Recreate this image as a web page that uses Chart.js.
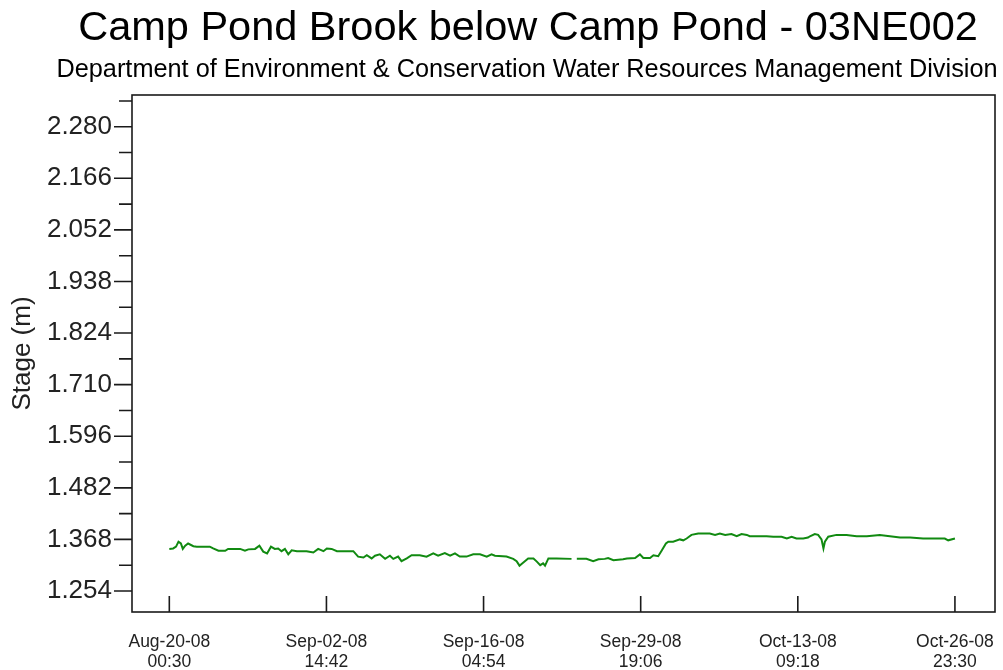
<!DOCTYPE html>
<html>
<head>
<meta charset="utf-8">
<title>Camp Pond Brook below Camp Pond - 03NE002</title>
<script src="https://cdn.jsdelivr.net/npm/chart.js@4.4.1/dist/chart.umd.min.js"></script>
<style>
  html, body { margin: 0; padding: 0; background: #ffffff; }
  #wrap { width: 1003px; height: 670px; }
</style>
</head>
<body>
<div id="wrap"><canvas id="stageChart" width="1003" height="670"></canvas></div>
<script>
// Station and labels
const chartTitle = 'Camp Pond Brook below Camp Pond - 03NE002';
const chartSubtitle = 'Department of Environment & Conservation Water Resources Management Division';
const yAxisTitle = 'Stage (m)';

// Time axis tick labels (date + time of day)
const xTickLabels = [
  'Aug-20-08 00:30', 'Sep-02-08 14:42', 'Sep-16-08 04:54',
  'Sep-29-08 19:06', 'Oct-13-08 09:18', 'Oct-26-08 23:30'
];

// Stage axis tick labels (m)
const yTickLabels = ['1.254', '1.368', '1.482', '1.596', '1.710', '1.824', '1.938', '2.052', '2.166', '2.280'];
const yRange = [1.2076, 2.3501];

// Observation times, hours after Aug-20-08 00:30
const obsHours = [
  0, 8, 14, 19, 24, 28, 33, 39, 50, 57,
  84, 91, 102, 116, 122, 147, 157, 164, 178, 187,
  195, 203, 211, 219, 226, 233, 240, 247, 254, 265,
  285, 299, 309, 320, 327, 337, 348, 375, 382, 392,
  403, 410, 420, 427, 437, 448, 458, 465, 475, 482,
  493, 503, 520, 534, 548, 558, 572, 583, 593, 603,
  617, 631, 645, 659, 669, 676, 700, 714, 721, 727,
  735, 745, 756, 763, 770, 776, 780, 787, 804, 835,
  840, 846, 866, 880, 891, 904, 911, 922, 942, 950,
  967, 977, 984, 998, 1005, 1015, 1022, 1031, 1036, 1046,
  1060, 1067, 1074, 1084, 1098, 1122, 1133, 1143, 1154, 1167,
  1178, 1188, 1199, 1205, 1226, 1240, 1254, 1271, 1282, 1292,
  1302, 1316, 1326, 1330, 1340, 1347, 1354, 1358, 1361, 1368,
  1385, 1406, 1427, 1448, 1475, 1496, 1517, 1538, 1565, 1600,
  1610, 1617, 1631
];

// Water level (m); null marks missing record
const stage = [
  1.347, 1.348, 1.352, 1.363, 1.359, 1.347, 1.354, 1.359, 1.353, 1.352,
  1.352, 1.348, 1.343, 1.343, 1.347, 1.347, 1.343, 1.346, 1.347, 1.354,
  1.341, 1.337, 1.352, 1.347, 1.348, 1.342, 1.347, 1.335, 1.344, 1.342,
  1.342, 1.339, 1.347, 1.342, 1.348, 1.347, 1.342, 1.342, 1.342, 1.330,
  1.328, 1.333, 1.326, 1.332, 1.335, 1.325, 1.332, 1.325, 1.330, 1.320,
  1.326, 1.333, 1.333, 1.330, 1.337, 1.332, 1.338, 1.332, 1.337, 1.330,
  1.330, 1.335, 1.335, 1.330, 1.335, 1.332, 1.330, 1.325, 1.320, 1.310,
  1.317, 1.326, 1.326, 1.319, 1.311, 1.315, 1.310, 1.326, 1.326, 1.325,
  null, 1.325, 1.325, 1.320, 1.324, 1.325, 1.327, 1.322, 1.324, 1.326,
  1.327, 1.335, 1.327, 1.327, 1.333, 1.331, 1.343, 1.359, 1.363, 1.363,
  1.368, 1.366, 1.370, 1.378, 1.381, 1.381, 1.378, 1.381, 1.378, 1.380,
  1.375, 1.380, 1.378, 1.375, 1.375, 1.375, 1.374, 1.374, 1.370, 1.374,
  1.370, 1.370, 1.372, 1.375, 1.380, 1.378, 1.368, 1.348, 1.363, 1.374,
  1.378, 1.378, 1.375, 1.375, 1.378, 1.375, 1.372, 1.372, 1.370, 1.370,
  1.370, 1.366, 1.370
];

const FONT = "'Liberation Sans', Arial, Helvetica, sans-serif";
const MONTHS = { Jan: 0, Feb: 1, Mar: 2, Apr: 3, May: 4, Jun: 5, Jul: 6, Aug: 7, Sep: 8, Oct: 9, Nov: 10, Dec: 11 };

function parseStamp(s) {
  const [d, t] = s.split(' ');
  const [mon, day, yy] = d.split('-');
  const [hh, mm] = t.split(':');
  return Date.UTC(2000 + Number(yy), MONTHS[mon], Number(day), Number(hh), Number(mm));
}

// tick positions on the hour axis
const t0 = parseStamp(xTickLabels[0]);
const xTickHours = xTickLabels.map(s => (parseStamp(s) - t0) / 3600000);
const xTickLines = xTickLabels.map(s => s.split(' '));
const span = xTickHours[xTickHours.length - 1] - xTickHours[0];
const xMin = xTickHours[0] - span * 0.0475;
const xMax = xTickHours[xTickHours.length - 1] + span * 0.051;

// major ticks carry labels, minor ticks sit half way between them
const yMajor = yTickLabels.map(Number);
const yStep = yMajor[1] - yMajor[0];
const yTicks = [];
yMajor.forEach((v, i) => {
  yTicks.push({ value: v, label: yTickLabels[i] });
  const mid = v + yStep / 2;
  if (mid < yRange[1]) yTicks.push({ value: mid, label: '' });
});
if (yMajor[0] - yStep / 2 > yRange[0]) yTicks.unshift({ value: yMajor[0] - yStep / 2, label: '' });

const points = obsHours.map((h, i) => ({ x: h, y: stage[i] }));

// keep the plot frame fixed: no extra room reserved for edge labels
function noEdgePadding(s) {
  s.paddingLeft = 0; s.paddingRight = 0; s.paddingTop = 0; s.paddingBottom = 0;
}

// frame, tick marks and headings
const framePlugin = {
  id: 'frameAndHeadings',
  afterDraw(chart) {
    const { ctx, chartArea: a, scales: { x, y } } = chart;
    ctx.save();
    ctx.strokeStyle = '#1a1a1a';
    ctx.lineWidth = 1.6;
    ctx.strokeRect(a.left, a.top, a.right - a.left, a.bottom - a.top);
    ctx.beginPath();
    y.ticks.forEach((t, i) => {
      const py = y.getPixelForValue(t.value);
      const len = yTicks[i].label ? 18 : 13;
      ctx.moveTo(a.left - len, py);
      ctx.lineTo(a.left, py);
    });
    x.ticks.forEach(t => {
      const px = x.getPixelForValue(t.value);
      ctx.moveTo(px, a.bottom);
      ctx.lineTo(px, a.bottom - 16);
    });
    ctx.stroke();

    ctx.fillStyle = '#000000';
    ctx.textAlign = 'center';
    ctx.textBaseline = 'middle';
    ctx.font = '41.5px ' + FONT;
    ctx.fillText(chartTitle, 528, 29);
    ctx.font = '25.3px ' + FONT;
    ctx.fillText(chartSubtitle, 527, 70);
    ctx.restore();
  }
};

new Chart(document.getElementById('stageChart'), {
  type: 'line',
  data: {
    datasets: [{
      label: yAxisTitle,
      data: points,
      borderColor: '#118a11',
      borderWidth: 2,
      pointRadius: 0,
      tension: 0,
      fill: false,
      spanGaps: false
    }]
  },
  options: {
    responsive: false,
    animation: false,
    devicePixelRatio: 1,
    layout: { padding: { top: 95, right: 8, left: 0, bottom: 0 } },
    plugins: {
      legend: { display: false },
      tooltip: { enabled: false },
      title: { display: false }
    },
    scales: {
      x: {
        type: 'linear',
        min: xMin,
        max: xMax,
        bounds: 'data',
        grid: { display: false, drawTicks: false },
        border: { display: false },
        afterBuildTicks: s => { s.ticks = xTickHours.map(v => ({ value: v })); },
        afterFit: s => { s.height = 58; noEdgePadding(s); },
        ticks: {
          autoSkip: false,
          maxRotation: 0,
          minRotation: 0,
          padding: 20,
          color: '#222222',
          font: { family: FONT, size: 17.5, lineHeight: '20px' },
          callback: (v, i) => xTickLines[i]
        }
      },
      y: {
        type: 'linear',
        min: yRange[0],
        max: yRange[1],
        bounds: 'data',
        grid: { display: false, drawTicks: false },
        border: { display: false },
        afterBuildTicks: s => { s.ticks = yTicks.map(t => ({ value: t.value })); },
        afterFit: s => { s.width = 132; noEdgePadding(s); },
        ticks: {
          autoSkip: false,
          padding: 20,
          color: '#222222',
          font: { family: FONT, size: 26 },
          callback: (v, i) => yTicks[i].label
        },
        title: {
          display: true,
          text: yAxisTitle,
          color: '#222222',
          font: { family: FONT, size: 26 },
          padding: { top: 7, bottom: 0 }
        }
      }
    }
  },
  plugins: [framePlugin]
});
</script>
</body>
</html>
